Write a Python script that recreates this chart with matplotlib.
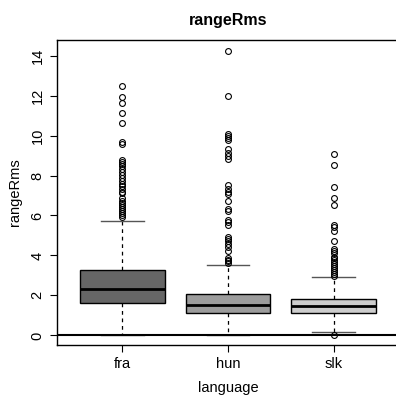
import numpy as np
import matplotlib.pyplot as plt

plt.rcParams['font.family'] = ['Liberation Sans', 'DejaVu Sans']

languages = ["fra", "hun", "slk"]
box_colors = ["#666666", "#9c9c9c", "#cdcdcd"]

# five-number summaries
q1 = [1.61, 1.11, 1.11]
median = [2.34, 1.54, 1.47]
q3 = [3.29, 2.09, 1.84]
whisker_low = [0.0, 0.0, 0.19]
whisker_high = [5.74, 3.52, 2.94]

fra_outliers = [12.5, 11.95, 11.65, 11.15, 10.65, 9.67, 9.6,
                8.8, 8.7, 8.6, 8.5, 8.35, 8.2, 8.05, 7.9, 7.75, 7.6, 7.5, 7.35, 7.2, 7.1,
                6.85, 6.7, 6.6, 6.5, 6.4, 6.3, 6.2, 6.1, 6.0, 5.9]
hun_outliers = [14.24, 11.99, 10.1, 10.0, 9.9, 9.8, 9.35, 9.15, 9.0, 8.85,
                7.55, 7.35, 7.2, 7.05, 6.73, 6.31, 6.22, 5.78, 5.65, 5.53,
                4.91, 4.8, 4.7, 4.55, 4.4, 4.24, 3.86, 3.78, 3.7, 3.64]
slk_outliers = [9.09, 8.53, 7.44, 6.86, 6.53, 5.53, 5.4, 5.24, 4.74, 4.33, 4.2, 4.11,
                3.94, 3.85, 3.75, 3.65, 3.55, 3.45, 3.35, 3.25, 3.15, 3.05, 2.98, 0.04]
outliers = [fra_outliers, hun_outliers, slk_outliers]

stats = []
for i, lang in enumerate(languages):
    stats.append(dict(label=lang, med=median[i], q1=q1[i], q3=q3[i],
                      whislo=whisker_low[i], whishi=whisker_high[i],
                      fliers=outliers[i]))

fig = plt.figure(figsize=(3.96, 3.95), dpi=100)
ax = fig.add_axes([57 / 396, 50 / 395, 342 / 396, 305 / 395])

bp = ax.bxp(stats, positions=[1, 2, 3], widths=0.8, patch_artist=True,
            boxprops=dict(edgecolor="black", linewidth=1.0),
            medianprops=dict(color="black", linewidth=2.0),
            whiskerprops=dict(color="black", linewidth=0.9, linestyle=(0, (3, 3))),
            capprops=dict(color="#555555", linewidth=1.0),
            flierprops=dict(marker="o", markersize=4.2, markerfacecolor="none",
                            markeredgecolor="black", markeredgewidth=0.8))
for patch, c in zip(bp["boxes"], box_colors):
    patch.set_facecolor(c)
for cap in bp["caps"]:
    x = cap.get_xdata()
    mid = (x[0] + x[1]) / 2
    cap.set_xdata([mid - 0.2, mid + 0.2])

ax.axhline(0, color="black", linewidth=1.5, zorder=5)

ax.set_xlim(0.38, 3.62)
ax.set_ylim(-0.48, 14.78)
ax.set_yticks(np.arange(0, 15, 2))
ax.set_yticklabels([str(v) for v in range(0, 15, 2)], rotation=90, va="center")
ax.set_xticks([1, 2, 3])
ax.set_xticklabels(languages)
ax.tick_params(labelsize=10.5, length=5, width=0.8, pad=4)

ax.set_xlabel("language", fontsize=10.5, labelpad=7)
ax.set_ylabel("rangeRms", fontsize=10.5, labelpad=6)
ax.set_title("rangeRms", fontsize=11.5, fontweight="bold", pad=11)

for s in ax.spines.values():
    s.set_linewidth(1.0)
ax.spines["right"].set_visible(False)

fig.savefig("out.png", dpi=100)
